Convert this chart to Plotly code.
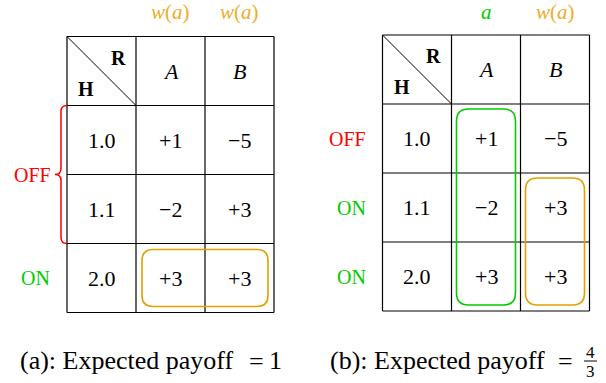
import plotly.graph_objects as go

# table contents
h_values = ["1.0", "1.1", "2.0"]
columns = ["A", "B"]
payoff_A = [1, -2, 3]
payoff_B = [-5, 3, 3]
status_a = ["OFF", "OFF", "ON"]
status_b = ["OFF", "ON", "ON"]
top_a = ["w(a)", "w(a)"]
top_b = ["a", "w(a)"]
payoff_a = "1"
payoff_b = ("4", "3")

RED = "#ff0000"
GREEN = "#00cc00"
ORANGE = "#e69f00"
LABEL_ORANGE = "#f0ac2a"
FONT = "Liberation Serif"
CELL = 69.0


def fmt(v):
    return f"{v:+d}".replace("-", "\u2212")


def rounded(x0, y0, x1, y1, r):
    return (f"M {x0+r},{y0} L {x1-r},{y0} Q {x1},{y0} {x1},{y0+r} "
            f"L {x1},{y1-r} Q {x1},{y1} {x1-r},{y1} L {x0+r},{y1} "
            f"Q {x0},{y1} {x0},{y1-r} L {x0},{y0+r} Q {x0},{y0} {x0+r},{y0} Z")


fig = go.Figure()
shapes = []
annotations = []


def txt(x, y, s, color="black", size=21, xanchor="center"):
    annotations.append(dict(x=x, y=y, text=s, showarrow=False, xanchor=xanchor,
                            yanchor="middle", font=dict(family=FONT, size=size, color=color)))


def table(x0, y0, tops, top_colors):
    nr, nc = len(h_values) + 1, len(columns) + 1
    for i in range(nr + 1):
        y = y0 + i * CELL
        shapes.append(dict(type="line", x0=x0, x1=x0 + nc * CELL, y0=y, y1=y,
                           line=dict(color="black", width=1.2)))
    for j in range(nc + 1):
        x = x0 + j * CELL
        shapes.append(dict(type="line", x0=x, x1=x, y0=y0, y1=y0 + nr * CELL,
                           line=dict(color="black", width=1.2)))
    # diagonal in corner cell
    shapes.append(dict(type="line", x0=x0, y0=y0, x1=x0 + CELL, y1=y0 + CELL,
                       line=dict(color="black", width=1)))
    txt(x0 + 51, y0 + 21, "<b>R</b>", size=20)
    txt(x0 + 19, y0 + 52, "<b>H</b>", size=20)
    for j, c in enumerate(columns):
        cx = x0 + (j + 1.5) * CELL
        txt(cx, y0 + 0.5 * CELL, f"<i>{c}</i>", size=22)
        t = tops[j].replace("w", "<i>w</i>").replace("a", "<i>a</i>")
        txt(cx, 12, t, color=top_colors[j], size=21)
    for i, h in enumerate(h_values):
        cy = y0 + (i + 1.5) * CELL
        txt(x0 + 0.5 * CELL, cy, h, size=22)
        txt(x0 + 1.5 * CELL, cy, fmt(payoff_A[i]), size=22)
        txt(x0 + 2.5 * CELL, cy, fmt(payoff_B[i]), size=22)


# (a)
xa, ya = 67.0, 36.5
table(xa, ya, top_a, [LABEL_ORANGE, LABEL_ORANGE])
# red brace over the two OFF rows
bx, by0, by1 = xa - 6, ya + CELL, ya + 3 * CELL
bm = (by0 + by1) / 2
shapes.append(dict(type="path", line=dict(color=RED, width=1.5),
                   path=(f"M {xa},{by0} Q {bx},{by0} {bx},{by0+6} L {bx},{bm-6} "
                         f"Q {bx},{bm} {bx-6},{bm} Q {bx},{bm} {bx},{bm+6} "
                         f"L {bx},{by1-6} Q {bx},{by1} {xa},{by1}")))
txt(53, bm, status_a[0], color=RED, size=20, xanchor="right")
txt(52, ya + 3.5 * CELL, status_a[2], color=GREEN, size=20, xanchor="right")
shapes.append(dict(type="path", path=rounded(xa + CELL + 6, ya + 3 * CELL + 6,
                                             xa + 3 * CELL - 6, ya + 4 * CELL - 6, 11),
                   line=dict(color=ORANGE, width=1.6)))

# (b)
xb, yb = 382.5, 35.0
table(xb, yb, top_b, [GREEN, LABEL_ORANGE])
for i, s in enumerate(status_b):
    txt(368, yb + (i + 1.5) * CELL, s, color=RED if s == "OFF" else GREEN,
        size=20, xanchor="right")
shapes.append(dict(type="path", path=rounded(xb + CELL + 5, yb + CELL + 5,
                                             xb + 2 * CELL - 5, yb + 4 * CELL - 6, 12),
                   line=dict(color=GREEN, width=1.6)))
shapes.append(dict(type="path", path=rounded(xb + 2 * CELL + 5, yb + 2 * CELL + 5,
                                             xb + 3 * CELL - 5, yb + 4 * CELL - 6, 12),
                   line=dict(color=ORANGE, width=1.6)))

# captions
txt(18, 360, "(a): Expected payoff", size=26, xanchor="left")
txt(256, 361, "=", size=26)
txt(275.5, 360, payoff_a, size=26)
txt(328, 360, "(b): Expected payoff", size=26, xanchor="left")
txt(565, 361, "=", size=26)
txt(590, 352, payoff_b[0], size=17)
txt(590, 371, payoff_b[1], size=17)
shapes.append(dict(type="line", x0=584, x1=597, y0=361, y1=361,
                   line=dict(color="black", width=1)))

fig.update_layout(
    width=606, height=383, margin=dict(l=0, r=0, t=0, b=0),
    plot_bgcolor="white", paper_bgcolor="white", showlegend=False,
    xaxis=dict(range=[0, 606], visible=False, fixedrange=True),
    yaxis=dict(range=[383, 0], visible=False, fixedrange=True),
    shapes=shapes, annotations=annotations,
)
fig.write_html("out.html", config={"displayModeBar": False},
               post_script="document.body.style.margin='0px';")
